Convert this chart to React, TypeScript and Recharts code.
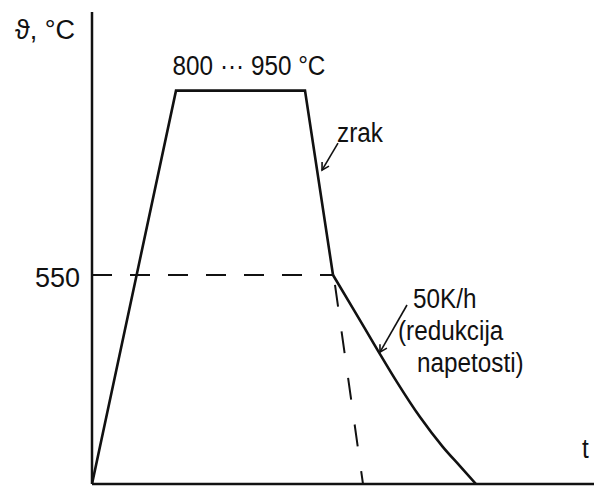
import React from 'react';
import { LineChart, Line, XAxis, YAxis, ReferenceLine, ReferenceDot } from 'recharts';

// schematic units: t = time, v = temperature (not to scale, like the drawing)
const heatT = [0, 84, 213, 241];
const heatV = [0, 1035, 1035, 550];
const slowT = [241, 263, 285, 305, 328, 351, 368, 384];
const slowV = [550, 453, 355, 268, 176, 97, 47, 0];
const airT = [243, 271];
const airV = [524, 0];
const holdT = [0, 241];
const holdV = [550, 550];
const yTicks = [550];

const labels = [
  { text: 'ϑ, °C', t: -77, v: 1170, anchor: 'start' },
  { text: '800 ··· 950 °C', t: 157, v: 1076, anchor: 'middle' },
  { text: 'zrak', t: 245, v: 900, anchor: 'start' },
  { text: '50K/h', t: 321, v: 464, anchor: 'start' },
  { text: '(redukcija', t: 306, v: 380, anchor: 'start' },
  { text: 'napetosti)', t: 325, v: 295, anchor: 'start' },
  { text: 't', t: 490, v: 68, anchor: 'start' },
];

const arrows = [
  { from: { x: 246, y: 897 }, to: { x: 230, y: 826 } },
  { from: { x: 315, y: 471 }, to: { x: 288, y: 347 } },
];

const FONT = "'Liberation Sans', Arial, sans-serif";
const INK = '#111';

const toRows = (t: number[], v: number[]) => t.map((x, i) => ({ t: x, v: v[i] }));

const heatData = toRows(heatT, heatV);
const slowData = toRows(slowT, slowV);
const airData = toRows(airT, airV);
const holdData = toRows(holdT, holdV);

const ArrowShape = (p: any) => {
  const { x1, y1, x2, y2 } = p;
  const dx = x1 - x2;
  const dy = y1 - y2;
  const len = Math.sqrt(dx * dx + dy * dy) || 1;
  const ux = dx / len;
  const uy = dy / len;
  const a = Math.PI / 6;
  const h = 8;
  const b1x = x2 + h * (ux * Math.cos(a) - uy * Math.sin(a));
  const b1y = y2 + h * (ux * Math.sin(a) + uy * Math.cos(a));
  const b2x = x2 + h * (ux * Math.cos(-a) - uy * Math.sin(-a));
  const b2y = y2 + h * (ux * Math.sin(-a) + uy * Math.cos(-a));
  return (
    <g>
      <line x1={x1} y1={y1} x2={x2} y2={y2} stroke={INK} strokeWidth={1.6} />
      <path d={`M${b1x},${b1y} L${x2},${y2} L${b2x},${b2y}`} fill="none" stroke={INK} strokeWidth={1.6} />
    </g>
  );
};

export default function App() {
  return (
    <div style={{ position: 'absolute', left: 0, top: 0, background: '#fff' }}>
      <LineChart width={594} height={488} margin={{ top: 12, right: 0, bottom: 0, left: 0 }}>
        <XAxis
          dataKey="t"
          type="number"
          domain={[0, 502]}
          allowDataOverflow
          height={4}
          tick={false}
          tickLine={false}
          axisLine={{ stroke: INK, strokeWidth: 2.5 }}
        />
        <YAxis
          dataKey="v"
          type="number"
          domain={[0, 1242]}
          allowDataOverflow
          width={92}
          ticks={yTicks}
          tickLine={false}
          tickSize={0}
          tickMargin={12}
          tick={{ fill: INK, fontSize: 27, fontFamily: FONT, dy: 2 }}
          axisLine={{ stroke: INK, strokeWidth: 2.5 }}
        />
        <Line data={holdData} dataKey="v" type="linear" stroke={INK} strokeWidth={2} strokeDasharray="20 18" dot={false} isAnimationActive={false} />
        <Line data={airData} dataKey="v" type="linear" stroke={INK} strokeWidth={2} strokeDasharray="22 25" dot={false} isAnimationActive={false} />
        <Line data={heatData} dataKey="v" type="linear" stroke={INK} strokeWidth={2.6} dot={false} isAnimationActive={false} />
        <Line data={slowData} dataKey="v" type="monotone" stroke={INK} strokeWidth={2.6} dot={false} isAnimationActive={false} />
        {arrows.map((a, i) => (
          <ReferenceLine key={`arrow-${i}`} segment={[a.from, a.to]} shape={ArrowShape} ifOverflow="visible" />
        ))}
        {labels.map((l, i) => (
          <ReferenceDot
            key={`label-${i}`}
            x={l.t}
            y={l.v}
            r={0}
            ifOverflow="visible"
            shape={(p: any) => (
              <text
                x={0}
                y={0}
                transform={`translate(${p.cx},${p.cy}) scale(${i === 0 ? 1 : 0.9},1)`}
                textAnchor={l.anchor}
                fontSize={27}
                fontFamily={FONT}
                fill={INK}
              >
                {l.text}
              </text>
            )}
          />
        ))}
      </LineChart>
    </div>
  );
}
